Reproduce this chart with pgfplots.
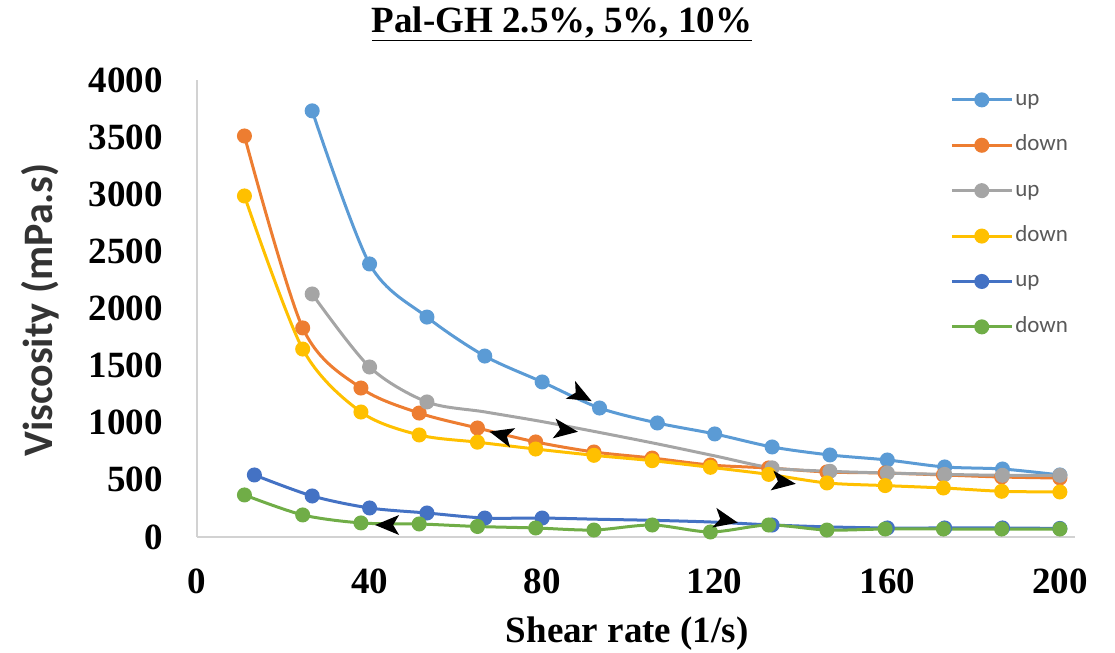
\documentclass[border=0pt]{standalone}
\usepackage{fontspec}
\setmainfont{Liberation Serif}
\newfontfamily\carlito{Carlito}
\usepackage{pgfplots}
\pgfplotsset{compat=1.18}
\definecolor{cA}{HTML}{5B9BD5}
\definecolor{cB}{HTML}{ED7D31}
\definecolor{cC}{HTML}{A5A5A5}
\definecolor{cD}{HTML}{FFC000}
\definecolor{cE}{HTML}{4472C4}
\definecolor{cF}{HTML}{70AD47}
\definecolor{legtext}{HTML}{595959}
\begin{document}
\begin{tikzpicture}
\begin{axis}[
  scale only axis, width=439pt, height=228.5pt,
  xmin=0, xmax=203.5, ymin=0, ymax=4000,
  clip=false,
  axis lines=left,
  axis line style={draw=gray!35, line width=1pt, -},
  xtick={0,40,...,200}, ytick={0,500,...,4000},
  major tick length=0pt,
  tick label style={font=\bfseries\fontsize{18.5}{20}\selectfont, /pgf/number format/assume math mode=true},
  /pgf/number format/set thousands separator={},
  xticklabel style={anchor=north, inner sep=0pt, yshift=-15.5pt},
  yticklabel style={anchor=east, inner sep=0pt, xshift=-17pt},
  every axis plot/.append style={line width=1.5pt, mark=*, mark size=3pt, smooth, tension=0.5},
  legend style={draw=none, fill=none, at={(axis cs:174.5,3939)}, anchor=north west, inner sep=0pt,
     row sep=10.2pt, font=\carlito\fontsize{11.5}{13}\selectfont\color{legtext},
     nodes={inner sep=1pt, text height=8pt, text depth=2.5pt}},
  legend cell align=left,
  legend image code/.code={\draw[mark repeat=2, mark phase=2, line width=1.5pt] plot coordinates {(0pt,0pt) (15pt,0pt) (30pt,0pt)};},
]
\addplot[cA, mark options={fill=cA, draw=cA}] coordinates {
 (26.7,3730) (40,2390) (53.3,1925) (66.7,1584) (80,1357) (93.3,1129) (106.7,998) (120,902)
 (133.3,788) (146.7,718) (160,674) (173.3,613) (186.7,595) (200,543)};
\addlegendentry{up}
\addplot[cB, mark options={fill=cB, draw=cB}] coordinates {
 (11,3510) (24.5,1830) (38,1304) (51.5,1085) (65,954) (78.5,832) (92,744) (105.5,691)
 (119,630) (132.5,604) (146,569) (159.5,560) (173,543) (186.5,525) (200,516)};
\addlegendentry{down}
\addplot[cC, mark options={fill=cC, draw=cC}, mark indices={1,2,3,9,10,11,12,13,14},
  legend image post style={mark indices={2}}] coordinates {
 (26.7,2127) (40,1488) (53.3,1182) (66.7,1095) (80,1010) (93.3,915) (106.7,815) (120,710)
 (133.3,605) (146.7,575) (160,560) (173.3,548) (186.7,540) (200,540)};
\addlegendentry{up}
\addplot[cD, mark options={fill=cD, draw=cD}] coordinates {
 (11,2985) (24.5,1645) (38,1094) (51.5,893) (65,830) (78.5,770) (92,715) (105.5,668)
 (119,610) (132.5,548) (146,473) (159.5,450) (173,429) (186.5,400) (200,394)};
\addlegendentry{down}
\addplot[cE, mark options={fill=cE, draw=cE}, mark indices={1,2,3,4,5,6,10,12,13,14,15},
  legend image post style={mark indices={2}}] coordinates {
 (13.3,543) (26.7,359) (40,254) (53.3,210) (66.7,166) (80,166) (93.3,155) (106.7,145) (120,130)
 (133.3,105) (146.7,88) (160,79) (173.3,79) (186.7,79) (200,75)};
\addlegendentry{up}
\addplot[cF, mark options={fill=cF, draw=cF}] coordinates {
 (11,368) (24.5,193) (38,123) (51.5,114) (65,92) (78.5,79) (92,61) (105.5,105)
 (119,44) (132.5,105) (146,61) (159.5,70) (173,70) (186.5,70) (200,70)};
\addlegendentry{down}
\node[anchor=base, yshift=24pt, font=\bfseries\fontsize{18.5}{20}\selectfont] at (axis cs:84.6,4000) {\underline{Pal-GH 2.5\%, 5\%, 10\%}};
\node[anchor=base, yshift=-52.5pt, font=\bfseries\fontsize{18.5}{20}\selectfont] at (axis cs:99.7,0) {Shear rate (1/s)};
\node[rotate=90, font=\carlito\bfseries\fontsize{21}{23}\selectfont, text=black!80] at ([xshift=-78.5pt]axis cs:0,1987) {Viscosity (mPa.s)};
\coordinate (A1) at (axis cs:88.8,1243);
\coordinate (A2) at (axis cs:85.3,937);
\coordinate (A3) at (axis cs:70.7,893);
\coordinate (A4) at (axis cs:135.8,481);
\coordinate (A5) at (axis cs:122.4,149);
\coordinate (A6) at (axis cs:44.3,105);
\end{axis}
\foreach \c/\a in {A1/-28, A2/-8, A3/165, A4/-8, A5/-12, A6/180}{
  \fill[black, shift={(\c)}, rotate=\a] (6.5pt,0) -- (-5.5pt,5pt) -- (-2.5pt,0) -- (-5.5pt,-5pt) -- cycle;
}
\pgfresetboundingbox
\path[use as bounding box] (current axis.south west) ++(-98.5pt,-58pt) rectangle ++(557.5pt,326.5pt);
\end{tikzpicture}
\end{document}
